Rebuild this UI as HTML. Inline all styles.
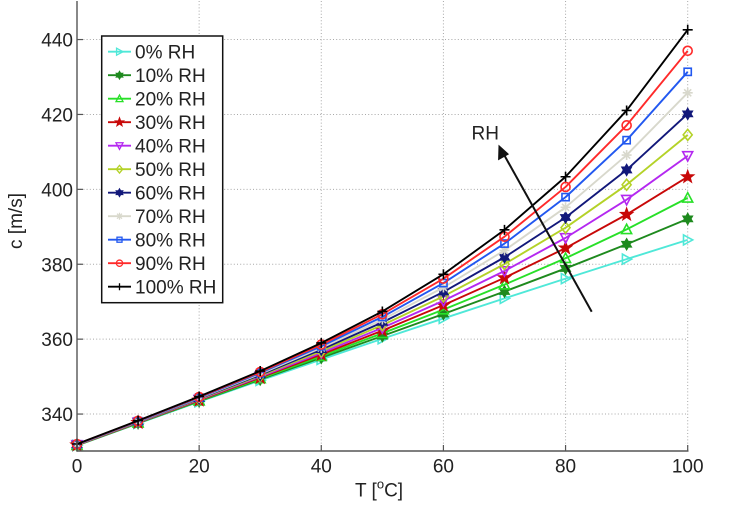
<!DOCTYPE html>
<html>
<head>
<meta charset="utf-8">
<style>
  html,body{margin:0;padding:0;background:#fff;}
  body{width:740px;height:507px;overflow:hidden;}
  svg{display:block;font-family:"Liberation Sans",Arial,sans-serif;}
</style>
</head>
<body>
<svg id="c" width="740" height="507" viewBox="0 0 740 507" xmlns="http://www.w3.org/2000/svg">
  <rect width="740" height="507" fill="#fff"/>
  <g id="grid"></g>
  <g id="series"></g>
  <g id="axes"></g>
  <g id="legend"></g>
  <!-- labels -->
  <text x="355" y="496.7" font-size="19" fill="#222">T [<tspan dy="-8" font-size="13">o</tspan><tspan dy="8">C]</tspan></text>
  <text transform="translate(22,221) rotate(-90)" text-anchor="middle" font-size="19" fill="#222">c [m/s]</text>
  <!-- RH arrow -->
  <line x1="591.7" y1="311.7" x2="503.5" y2="153.8" stroke="#111" stroke-width="2"/>
  <polygon points="499,145.7 498.6,159.5 508.2,154.1" fill="#111" stroke="#111" stroke-width="1"/>
  <text x="471.5" y="139.3" font-size="19" fill="#222">RH</text>
</svg>
<script>
(function(){
  const X=T=>77+T*6.107;
  const Y=v=>451.5-(v-330)*3.745;
  const dry=T=>331.6*Math.sqrt(1+T/278.9);
  const D=[0.4,0.75,1.4,2.5,4.4,7.3,11.8,18.3,27.2,39.7,56.1];
  const colors=['#4fe8d8','#1e8a1e','#28e028','#c80808','#b428f0','#b4d228','#12187a','#d8d8cc','#2258f0','#ff2a2a','#000000'];
  const types=['>','h','^','p','v','d','h','*','s','o','+'];
  const names=['0% RH','10% RH','20% RH','30% RH','40% RH','50% RH','60% RH','70% RH','80% RH','90% RH','100% RH'];

  function star(x,y,n,ro,ri){
    let pts=[];
    for(let i=0;i<2*n;i++){
      const r=i%2===0?ro:ri;
      const a=-Math.PI/2+i*Math.PI/n;
      pts.push((x+r*Math.cos(a)).toFixed(2)+','+(y+r*Math.sin(a)).toFixed(2));
    }
    return pts.join(' ');
  }
  function marker(t,x,y,s,c,sw){
    const st=`stroke="${c}" stroke-width="${sw}"`;
    switch(t){
      case '>': return `<polygon points="${x-s*0.42},${y-s*0.5} ${x+s*0.5},${y} ${x-s*0.42},${y+s*0.5}" fill="none" ${st}/>`;
      case '^': return `<polygon points="${x},${y-s*0.52} ${x+s*0.5},${y+s*0.42} ${x-s*0.5},${y+s*0.42}" fill="none" ${st}/>`;
      case 'v': return `<polygon points="${x},${y+s*0.52} ${x+s*0.5},${y-s*0.42} ${x-s*0.5},${y-s*0.42}" fill="none" ${st}/>`;
      case 'd': return `<polygon points="${x},${y-s*0.55} ${x+s*0.45},${y} ${x},${y+s*0.55} ${x-s*0.45},${y}" fill="none" ${st}/>`;
      case 's': return `<rect x="${x-s*0.36}" y="${y-s*0.36}" width="${s*0.72}" height="${s*0.72}" fill="none" ${st}/>`;
      case 'o': return `<circle cx="${x}" cy="${y}" r="${s*0.45}" fill="none" ${st}/>`;
      case '+': return `<path d="M${x-s*0.5},${y}H${x+s*0.5}M${x},${y-s*0.5}V${y+s*0.5}" fill="none" ${st}/>`;
      case '*': {
        const r=s*0.5, q=r*0.707;
        return `<path d="M${x-r},${y}H${x+r}M${x},${y-r}V${y+r}M${x-q},${y-q}L${x+q},${y+q}M${x-q},${y+q}L${x+q},${y-q}" fill="none" ${st}/>`;
      }
      case 'p': return `<polygon points="${star(x,y,5,s*0.58,s*0.24)}" fill="${c}" ${st}/>`;
      case 'h': return `<polygon points="${star(x,y,6,s*0.52,s*0.3)}" fill="${c}" ${st}/>`;
    }
    return '';
  }

  // grid
  let g='';
  const dash='stroke="#a8a8a8" stroke-width="1" stroke-dasharray="1,2.2"';
  for(let T=20;T<=100;T+=20){ const x=X(T); g+=`<line x1="${x}" y1="1" x2="${x}" y2="451" ${dash}/>`; }
  for(let v=340;v<=440;v+=20){ const y=Y(v); g+=`<line x1="77" y1="${y}" x2="688" y2="${y}" ${dash}/>`; }
  document.getElementById('grid').innerHTML=g;

  // series
  let s='';
  for(let k=0;k<11;k++){
    const h=k/10;
    let pts=[];
    for(let i=0;i<=10;i++){
      const T=i*10;
      const v=dry(T)+h*D[i];
      pts.push([X(T),Y(v)]);
    }
    s+=`<polyline points="${pts.map(p=>p[0].toFixed(2)+','+p[1].toFixed(2)).join(' ')}" fill="none" stroke="${colors[k]}" stroke-width="1.9" stroke-linejoin="round"/>`;
    for(const p of pts){ s+=marker(types[k],+p[0].toFixed(2),+p[1].toFixed(2),10,colors[k],1.6); }
  }
  document.getElementById('series').innerHTML=s;

  // axes
  let a='';
  a+=`<line x1="77" y1="1" x2="77" y2="451.5" stroke="#555" stroke-width="1.4"/>`;
  a+=`<line x1="76.5" y1="451" x2="688.5" y2="451" stroke="#555" stroke-width="1.4"/>`;
  for(let T=0;T<=100;T+=20){
    const x=X(T);
    a+=`<line x1="${x}" y1="451" x2="${x}" y2="445" stroke="#555" stroke-width="1.2"/>`;
    a+=`<text x="${x}" y="472.5" text-anchor="middle" font-size="19" fill="#222">${T}</text>`;
  }
  for(let v=340;v<=440;v+=20){
    const y=Y(v);
    a+=`<line x1="77" y1="${y}" x2="83" y2="${y}" stroke="#555" stroke-width="1.2"/>`;
    a+=`<text x="73" y="${y+7}" text-anchor="end" font-size="19" fill="#222">${v}</text>`;
  }
  document.getElementById('axes').innerHTML=a;

  // legend
  let l=`<rect x="101.7" y="36" width="121" height="266.7" fill="#fff" stroke="#111" stroke-width="1.5"/>`;
  for(let k=0;k<11;k++){
    const cy=51.7+k*23.5;
    l+=`<line x1="108" y1="${cy}" x2="131" y2="${cy}" stroke="${colors[k]}" stroke-width="1.8"/>`;
    l+=marker(types[k],119.5,cy,7,colors[k],1.3);
    l+=`<text x="135" y="${cy+6.8}" font-size="19" fill="#222">${names[k]}</text>`;
  }
  document.getElementById('legend').innerHTML=l;
})();
</script>
</body>
</html>
